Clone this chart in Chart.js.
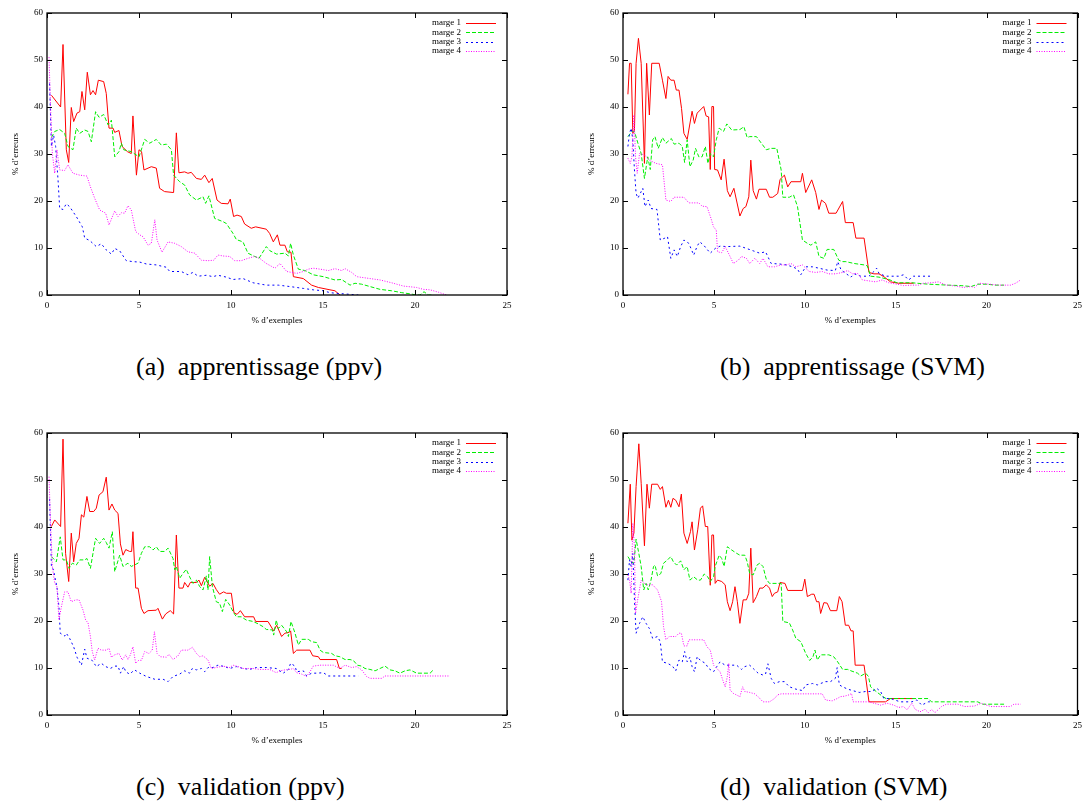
<!DOCTYPE html>
<html><head><meta charset="utf-8">
<script src="https://cdn.jsdelivr.net/npm/chart.js@4.4.1/dist/chart.umd.min.js"></script>
<style>
html,body{margin:0;padding:0;background:#fff;width:1087px;height:802px;overflow:hidden;position:relative;}
canvas{position:absolute;}
.cap{position:absolute;font-family:'Liberation Serif','Times New Roman',serif;font-size:26px;line-height:30px;color:#000;white-space:pre;}
</style></head><body>
<canvas id="ca" width="520" height="335" style="left:0px;top:0px;width:520px;height:335px"></canvas>
<canvas id="cb" width="511" height="335" style="left:576px;top:0px;width:511px;height:335px"></canvas>
<canvas id="cc" width="520" height="335" style="left:0px;top:420px;width:520px;height:335px"></canvas>
<canvas id="cd" width="511" height="335" style="left:576px;top:420px;width:511px;height:335px"></canvas>
<div class="cap" style="left:136px;top:352px">(a)  apprentissage (ppv)</div>
<div class="cap" style="left:720px;top:352px">(b)  apprentissage (SVM)</div>
<div class="cap" style="left:136px;top:772px">(c)  validation (ppv)</div>
<div class="cap" style="left:720px;top:772px">(d)  validation (SVM)</div>
<script>
// ---- data ----
const seriesLabels = ['marge 1', 'marge 2', 'marge 3', 'marge 4'];
const xTitle = '% d\u2019exemples';
const yTitle = '% d\u2019erreurs';
const xTicks = [0, 5, 10, 15, 20, 25];
const yTicks = [0, 10, 20, 30, 40, 50, 60];

// (a) apprentissage (ppv)
const aM1 = [[0.24,42.5],[0.74,40],[0.87,53.3],[1.05,30.9],[1.18,28.2],[1.32,39.9],[1.45,36.9],[1.63,38.7],[1.78,39],[1.9,43.3],[2.05,39.4],[2.19,47.4],[2.36,42.6],[2.5,43.5],[2.64,42.6],[2.79,45.7],[3.08,45.4],[3.22,42.9],[3.37,35.5],[3.59,35.5],[3.68,34.6],[3.91,35],[4.08,31.6],[4.37,30.5],[4.58,30.1],[4.67,38.1],[4.86,25.5],[5.0,30.9],[5.14,30.5],[5.27,26.6],[5.67,27.3],[5.94,27],[6.12,22.7],[6.39,22],[6.88,21.8],[7.03,34.5],[7.17,26],[7.48,26.2],[7.66,25.9],[7.84,26.1],[8.12,24.8],[8.39,24.6],[8.57,25.5],[8.8,23.9],[8.98,24.8],[9.24,20.2],[9.47,19.5],[9.84,19.4],[9.96,20.4],[10.14,16.7],[10.33,17],[10.56,16.7],[10.74,15.1],[11.1,14.2],[11.34,14.5],[11.92,14],[12.1,13.1],[12.3,11.3],[12.52,12.8],[12.66,10.6],[12.93,10.6],[13.06,9.2],[13.26,9.1],[13.39,3.9],[13.93,3.5],[14.38,2.1],[14.75,1.6],[15.38,1.1],[15.65,0.9],[15.92,0]];
const aM2 = [[0.24,33.5],[0.42,34.8],[0.69,35.2],[0.96,34.4],[1.14,31.6],[1.41,30.9],[1.59,35.5],[1.78,34.4],[2.05,35.1],[2.23,34.8],[2.41,32.6],[2.64,39],[2.83,37.8],[3.08,38.4],[3.32,36.2],[3.5,37.2],[3.68,29.4],[3.91,30.5],[4.04,32.3],[4.17,30.9],[4.58,30.5],[5.0,29.4],[5.31,33.1],[5.58,32.3],[5.94,33.1],[6.21,31.9],[6.49,32.1],[6.76,30.9],[6.88,25.5],[7.21,24.1],[7.48,23.4],[7.75,21.3],[8.12,20.2],[8.48,20.9],[8.62,19.5],[8.8,21.1],[9.11,16.3],[9.57,15.6],[9.75,15.2],[10.11,13.1],[10.29,11.8],[10.65,11.3],[10.92,8.9],[11.29,8.2],[11.52,7.8],[11.92,10.3],[12.12,9.4],[12.48,8.7],[12.93,8.9],[13.12,8.3],[13.24,11.0],[13.39,8.5],[13.66,5.5],[14.02,5.2],[14.47,4.3],[15.02,3.9],[15.65,3.2],[16.01,3.3],[16.47,2.1],[16.74,2.5],[17.1,2.3],[17.55,1.8],[18.1,1.2],[18.73,0.9],[19.28,0.5],[19.82,0.2],[20.04,0],[20.27,0],[20.49,0.7],[20.72,0],[20.99,0]];
const aM3 = [[0.14,45],[0.24,31.6],[0.36,34],[0.47,31.6],[0.6,24.5],[0.69,18.4],[0.87,18.2],[1.05,19.4],[1.23,18.8],[1.59,16.7],[1.92,14.5],[2.05,12.1],[2.32,11.6],[2.68,10.3],[2.95,10.9],[3.22,9.6],[3.5,8.7],[3.68,9.9],[3.95,9.4],[4.31,7.3],[4.67,7.1],[5.04,7.0],[5.4,6.6],[5.94,6.4],[6.49,5.9],[6.67,5.0],[7.3,5.0],[7.66,4.3],[7.93,4.8],[8.21,4.0],[8.66,4.2],[9.02,3.9],[9.29,4.2],[9.75,3.8],[10.11,3.3],[10.65,3.5],[11.2,2.6],[11.92,2.1],[12.57,2.1],[13.2,1.8],[13.93,1.4],[14.47,1.1],[15.02,0.9],[15.38,0.5],[15.74,0.35],[16.29,0.2],[16.92,0]];
const aM4 = [[0.11,50.6],[0.18,41.5],[0.29,30.1],[0.42,25.9],[0.54,30.9],[0.69,26.6],[0.96,26.5],[1.14,27.7],[1.41,25.9],[1.78,25.5],[2.17,25.3],[2.36,23.0],[2.59,20.6],[2.86,18.1],[3.19,17.4],[3.37,14.9],[3.68,17.9],[3.86,16.7],[4.04,17.5],[4.22,17.4],[4.4,19.0],[4.58,18.1],[4.82,13.5],[5.04,12.8],[5.22,12.4],[5.49,10.6],[5.67,11.0],[5.86,16.0],[5.98,11.7],[6.25,9.1],[6.58,11.3],[6.94,11.0],[7.3,10.3],[7.66,9.2],[8.03,8.9],[8.39,7.4],[8.75,7.3],[9.06,7.4],[9.29,8.5],[9.57,8.3],[9.93,8.2],[10.2,7.3],[10.56,7.3],[10.92,7.8],[11.29,8.2],[11.56,7.8],[11.92,6.7],[12.39,5.7],[12.66,6.7],[13.03,5.0],[13.57,4.6],[13.93,5.0],[14.2,5.5],[14.47,5.7],[14.84,5.5],[15.29,5.2],[15.65,5.6],[16.01,5.2],[16.2,5.6],[16.56,4.8],[16.83,3.9],[17.19,3.7],[17.55,3.5],[18.1,3.2],[18.73,2.6],[19.37,1.9],[20.09,1.6],[20.45,1.2],[20.82,1.1],[21.27,0.6],[21.72,0]];

// (b) apprentissage (SVM)
const bM1 = [[0.27,42.7],[0.36,49.3],[0.45,49.3],[0.54,34.4],[0.63,35.1],[0.72,49.3],[0.85,54.6],[1.0,49.3],[1.18,28],[1.3,49.3],[1.45,38.3],[1.58,49.3],[1.99,49.3],[2.17,45.7],[2.36,41.8],[2.48,46.5],[2.63,45.7],[2.81,45.7],[2.93,43.6],[3.08,43.6],[3.22,39.7],[3.35,34.4],[3.53,33.1],[3.62,35.1],[3.8,39.1],[3.93,36.5],[4.08,38.7],[4.44,40.1],[4.57,38.1],[4.71,37.9],[4.8,26.7],[4.89,40.1],[4.98,40.1],[5.04,26.7],[5.2,26.6],[5.4,24.5],[5.56,28.9],[5.74,22.2],[5.89,20.9],[6.1,22.7],[6.43,16.8],[6.61,18.4],[6.76,18.8],[6.92,20.9],[7.03,28.7],[7.16,22.2],[7.34,20.4],[7.48,22.5],[7.88,22.5],[8.06,20.8],[8.24,20.8],[8.51,21.6],[8.64,24.6],[8.88,25.5],[9.06,23],[9.24,24.1],[9.78,24.1],[9.87,25.9],[10.05,21.8],[10.38,24.5],[10.6,21.8],[10.78,18.2],[10.92,20.2],[11.14,19.5],[11.32,17.4],[11.72,17.4],[12.08,19.9],[12.23,15.4],[12.66,15.4],[12.81,12.1],[13.26,12.1],[13.53,4.8],[13.8,4.5],[14.08,4.5],[14.35,3.9],[14.71,2.8],[15.16,2.5],[15.98,2.5]];
const bM2 = [[0.27,33.7],[0.49,34.8],[0.63,34.8],[0.82,32.3],[1.0,30.1],[1.18,24.8],[1.36,29.4],[1.5,26.7],[1.63,33],[1.76,33.7],[1.94,31.2],[2.17,33.5],[2.36,32.3],[2.66,33.3],[2.81,32.1],[3.08,32.3],[3.26,31.6],[3.39,28.2],[3.53,33],[3.68,27.3],[3.86,28.7],[3.99,31.2],[4.17,29.4],[4.35,29.4],[4.53,31.6],[4.67,28],[4.8,30.1],[4.98,29.4],[5.13,33],[5.29,35.5],[5.53,34.8],[5.71,36.4],[5.98,35.1],[6.43,35.2],[6.65,35.8],[6.83,33.5],[6.97,33.7],[7.34,33.7],[7.61,32.3],[7.88,30.9],[8.15,31.2],[8.46,31.2],[8.7,26.6],[8.79,20.8],[9.15,20.8],[9.38,21.3],[9.6,18.8],[9.87,11.7],[10.14,11],[10.33,10.6],[10.6,11.3],[10.78,8.2],[11.05,7.8],[11.23,9.7],[11.59,9.7],[11.87,7.4],[12.08,7.1],[12.26,7.1],[12.72,6.7],[13.26,6.4],[13.44,6.2],[13.62,4.0],[14.08,3.8],[14.62,3.3],[15.07,2.6],[15.89,2.6],[16.79,2.3],[17.88,2.1],[18.6,2.0],[19.15,1.8],[19.51,2.3],[20.05,2.3],[20.42,2.1],[20.96,2.1]];
const bM3 = [[0.27,31.6],[0.36,34.4],[0.45,35.5],[0.54,33],[0.63,26.6],[0.72,21.6],[0.82,20.6],[1.0,22],[1.09,22.7],[1.21,18.8],[1.39,20.2],[1.54,18.4],[1.87,18.2],[2.05,11.7],[2.3,12.1],[2.45,12.4],[2.63,7.8],[2.81,9.6],[2.99,8.2],[3.17,10.3],[3.35,11.7],[3.62,11.0],[3.89,8.5],[4.08,10.4],[4.22,11.3],[4.44,10.6],[4.8,8.9],[5.07,9.9],[5.34,10.4],[5.71,10.3],[6.43,10.4],[7.16,9.4],[7.52,8.9],[7.84,9.2],[8.15,6.7],[8.61,6.6],[8.97,6.4],[9.33,6.0],[9.6,5.5],[9.78,4.3],[10.05,6.0],[10.42,6.0],[10.78,5.7],[11.23,5.3],[11.68,5.2],[11.81,7.1],[12.0,5.3],[12.54,3.8],[12.72,4.5],[13.08,4.0],[13.53,4.0],[13.8,5.0],[13.95,5.7],[14.08,4.6],[14.44,4.0],[15.16,4.0],[15.43,4.3],[15.71,3.2],[15.98,4.0],[16.97,4.0]];
const bM4 = [[0.27,29.1],[0.4,28],[0.49,29.4],[0.6,38.3],[0.69,29.4],[0.78,25.9],[0.91,30.1],[1.18,29.8],[1.45,28.7],[1.81,28],[2.17,27.7],[2.36,20.2],[2.63,19.9],[2.81,20.8],[3.35,20.8],[3.62,19.6],[4.17,19.6],[4.35,18.9],[4.62,18.8],[4.84,16.3],[4.98,14.5],[5.13,13.8],[5.2,9.2],[5.43,9.0],[5.62,10.3],[5.89,8.2],[6.07,6.7],[6.34,7.4],[6.52,8.2],[6.79,7.8],[6.97,6.7],[7.25,7.8],[7.52,6.7],[7.7,7.8],[7.97,6.0],[8.33,6.0],[8.7,6.4],[8.97,6.4],[9.24,6.7],[9.51,6.0],[9.87,6.4],[10.24,5.0],[10.6,4.8],[10.96,5.0],[11.32,4.5],[11.68,4.5],[12.08,4.8],[12.36,5.2],[12.63,4.5],[12.9,4.6],[13.17,3.2],[13.53,3.0],[13.9,2.8],[14.26,3.2],[14.62,2.6],[15.07,2.3],[15.43,2.0],[15.89,2.1],[16.25,2.1],[16.52,2.5],[16.97,2.6],[17.34,2.8],[17.79,2.1],[18.33,1.9],[18.7,1.6],[19.15,1.8],[19.33,1.6],[19.6,2.5],[20.14,2.3],[20.69,2.1],[21.32,2.1],[21.59,2.5],[21.87,3.2]];

// (c) validation (ppv)
const cM1 = [[0.24,40.1],[0.42,41.5],[0.74,40.1],[0.87,58.7],[1.01,34.4],[1.18,28.4],[1.32,38.7],[1.45,32.6],[1.59,36.5],[1.74,37.6],[1.87,42.6],[2.0,42.1],[2.17,46.5],[2.32,43.3],[2.54,43.3],[2.68,44],[2.83,46.8],[3.04,47.5],[3.22,50.6],[3.37,43.6],[3.53,44.9],[3.68,43.6],[3.86,42.9],[3.99,36.4],[4.13,34],[4.28,35.2],[4.49,34.8],[4.6,34.8],[4.67,39],[4.82,27],[4.95,27],[5.13,22.7],[5.27,21.6],[5.49,22.2],[5.94,22.3],[6.03,22.7],[6.27,20.4],[6.45,21.5],[6.7,22.2],[6.88,21.5],[7.03,38.3],[7.17,27],[7.39,27],[7.48,28.2],[7.66,27.2],[7.79,28.2],[8.12,28.2],[8.26,28.7],[8.39,27.5],[8.57,29.3],[8.84,27.4],[9.02,28],[9.2,26.7],[9.38,25.7],[9.6,26.2],[9.75,25.9],[10.02,25.9],[10.16,21.8],[10.33,21.4],[10.51,22.2],[10.74,20.9],[11.23,20.9],[11.34,19.9],[12.01,19.9],[12.32,17.9],[12.48,19.1],[12.75,16.7],[12.93,17.4],[13.17,17.6],[13.24,17.9],[13.39,13.1],[13.57,13.8],[14.29,13.8],[14.44,12.6],[14.75,12.4],[14.84,11.8],[15.74,11.8],[15.89,9.9],[16.01,9.9]];
const cM2 = [[0.24,33.7],[0.51,32.6],[0.72,37.9],[0.87,33],[1.05,33],[1.2,31.2],[1.38,32.3],[1.59,31.9],[1.78,33],[2.05,33],[2.17,33.3],[2.36,31.2],[2.64,37.6],[2.86,36.5],[3.08,37.6],[3.22,36.7],[3.37,35.5],[3.55,39],[3.68,30.5],[3.95,34],[4.13,31.6],[4.4,32.3],[4.58,31.6],[4.95,32.3],[5.13,34.4],[5.31,35.8],[5.58,35.8],[5.76,35.1],[5.94,35.8],[6.12,34.8],[6.39,34.8],[6.58,35.5],[6.85,33.3],[6.94,30.9],[7.03,31.6],[7.21,29.1],[7.39,30.1],[7.57,31.0],[7.75,29.4],[7.93,28],[8.12,28.7],[8.3,27.3],[8.48,26.6],[8.66,29.6],[8.75,26.6],[8.84,33.7],[8.99,27.3],[9.2,24.1],[9.38,23.8],[9.53,22],[9.71,24.6],[9.93,23.4],[10.11,22],[10.29,20.9],[10.56,20.9],[10.83,20.2],[11.2,19.9],[11.47,19.4],[11.74,18.8],[11.92,18.2],[12.25,18.1],[12.32,17.0],[12.46,20.2],[12.57,18.4],[12.75,19.1],[13.03,17.7],[13.12,16.7],[13.26,19.9],[13.48,17.4],[13.66,14.9],[13.84,16.1],[14.2,16.1],[14.38,15.6],[14.66,15.4],[14.84,13.8],[15.02,13.3],[15.47,13.1],[15.65,12.6],[15.92,12.4],[16.2,11.8],[16.47,11.8],[16.65,11.6],[16.87,10.6],[17.1,10.4],[17.28,9.9],[17.55,9.7],[17.83,9.4],[18.1,9.9],[18.37,10.4],[18.64,9.6],[18.91,9.4],[19.18,8.9],[19.46,9.4],[19.73,9.6],[20.09,8.9],[20.82,8.9],[21.0,9.6]];
const cM3 = [[0.14,46],[0.24,31.6],[0.36,30.9],[0.42,29.4],[0.54,27.3],[0.65,23],[0.72,17.4],[0.96,16.8],[1.05,17.4],[1.23,16.3],[1.45,14.5],[1.63,12.3],[1.87,10.6],[2.05,14],[2.17,12.1],[2.46,11.6],[2.68,10.3],[2.95,11],[3.19,10.3],[3.44,9.9],[3.68,10.4],[3.86,10.4],[3.99,8.9],[4.17,10.3],[4.28,9.2],[4.49,8.7],[4.76,9.6],[5.04,8.9],[5.4,8.2],[5.86,7.6],[6.31,7.6],[6.58,7.1],[6.85,8.2],[7.21,8.7],[7.48,9.4],[7.75,8.9],[7.9,9.9],[8.12,9.6],[8.39,9.9],[8.57,9.2],[8.75,10.1],[9.02,10.1],[9.29,10.6],[9.66,10.3],[9.93,9.9],[10.29,10.3],[10.65,9.9],[11.01,9.7],[11.38,10.1],[11.92,10.1],[12.46,9.9],[12.84,8.9],[13.12,9.7],[13.24,11.0],[13.48,10.4],[13.57,9.2],[13.93,9.4],[14.11,8.3],[14.38,8.9],[14.66,8.9],[15.02,9.0],[15.29,8.3],[15.74,8.3],[16.92,8.3]];
const cM4 = [[0.11,50.7],[0.18,42.2],[0.29,31.6],[0.42,28],[0.54,27.3],[0.65,20.2],[0.78,23],[0.96,26.2],[1.14,26.2],[1.32,24.1],[1.56,24.5],[1.74,24.5],[1.96,22.3],[2.1,20.2],[2.23,19.6],[2.36,16.7],[2.46,13.5],[2.59,11.7],[2.77,14.2],[2.95,13.8],[3.22,13.8],[3.37,14.2],[3.5,12.3],[3.68,12.8],[3.91,13.1],[4.09,11.7],[4.28,12.8],[4.4,11.8],[4.53,12.8],[4.67,14.5],[4.82,11],[5.0,11.7],[5.13,11.6],[5.31,13.5],[5.54,13.1],[5.72,13.8],[5.84,17.7],[5.98,13.1],[6.16,12.4],[6.49,12.3],[6.63,12.9],[6.85,11.8],[7.12,12.6],[7.3,13.8],[7.66,13.8],[7.9,14.4],[8.12,13.1],[8.3,12.4],[8.48,12.6],[8.75,11.7],[8.93,9.9],[9.2,10.1],[9.57,10.4],[9.93,10.1],[10.11,10.6],[10.38,10.3],[10.65,9.9],[11.2,9.9],[11.56,9.7],[12.1,9.7],[12.46,9.0],[12.66,9.4],[12.93,9.6],[13.21,9.7],[13.39,9.9],[13.57,9.0],[13.84,8.7],[14.11,8.2],[14.29,9.2],[14.47,10.4],[14.84,10.6],[15.56,10.6],[15.92,9.9],[16.2,10.6],[16.56,10.1],[16.83,10.3],[17.1,9.6],[17.37,8.2],[17.55,7.8],[18.19,7.8],[18.37,8.3],[21.9,8.3]];

// (d) validation (SVM)
const dM1 = [[0.27,40.8],[0.4,49.1],[0.49,37.2],[0.6,38.7],[0.72,48.6],[0.87,57.7],[1.0,49.3],[1.18,36],[1.32,49.1],[1.45,44],[1.58,49.1],[1.9,49.1],[2.05,48],[2.17,48.6],[2.36,44.2],[2.5,45.7],[2.63,44.2],[2.75,46.1],[2.9,45.7],[3.08,44.3],[3.21,47],[3.35,38.7],[3.53,36.5],[3.71,39],[3.8,41.1],[3.93,35.1],[4.11,39.4],[4.26,44],[4.38,44.5],[4.53,40.1],[4.66,40.1],[4.8,27.6],[4.89,38.3],[4.98,38.3],[5.07,28],[5.2,28.7],[5.43,28.4],[5.62,27.7],[5.74,24.1],[5.89,22.2],[6.03,24.1],[6.16,27.3],[6.29,24.1],[6.43,19.5],[6.61,24.5],[6.79,24.5],[6.92,25.9],[7.03,35.5],[7.16,23.9],[7.34,25.2],[7.52,27],[7.7,27],[7.88,27.7],[8.06,27],[8.21,25.2],[8.33,25.9],[8.51,26.2],[8.64,28.2],[8.91,28],[9.06,26.5],[9.87,26.5],[10.0,28.9],[10.14,25.2],[10.38,25.7],[10.51,25.7],[10.65,24.1],[10.78,24.1],[10.87,21.6],[11.05,23.9],[11.23,23.8],[11.41,22.2],[11.76,22.2],[11.9,25.2],[12.05,24.1],[12.23,19.1],[12.41,19.1],[12.54,17.9],[12.66,17.9],[12.77,10.6],[13.26,10.6],[13.53,2.8],[14.44,2.8],[14.71,3.5],[15.98,3.5]];
const dM2 = [[0.27,33.7],[0.45,32.6],[0.6,32.3],[0.72,37.4],[0.85,34.8],[1.0,31.6],[1.14,26.6],[1.27,28],[1.39,26.6],[1.54,28.7],[1.68,31.6],[1.76,31.9],[1.9,29.6],[2.08,30.1],[2.23,32.3],[2.45,33],[2.63,33.7],[2.77,32.6],[2.95,31.9],[3.17,32.8],[3.35,30.9],[3.53,31.6],[3.68,28.7],[3.89,29.4],[4.11,28.7],[4.26,28.7],[4.47,30],[4.66,29.4],[4.8,28.4],[4.98,29.4],[5.07,31.6],[5.29,34],[5.43,33.3],[5.56,31.6],[5.74,35.8],[5.98,35.1],[6.25,34.4],[6.43,34],[6.7,34],[6.83,32.6],[6.97,30.1],[7.16,29.8],[7.37,31.9],[7.52,32.3],[7.7,31.6],[7.88,28.9],[8.06,28],[8.7,28],[8.79,19.9],[9.15,19.6],[9.33,18.1],[9.51,16.3],[9.78,15.6],[10.05,13.1],[10.27,11.6],[10.45,12.4],[10.56,13.8],[10.69,11.7],[10.87,12.8],[11.32,12.8],[11.59,12.4],[11.81,11.3],[12.08,9.7],[12.36,9.7],[12.54,9.4],[12.9,8.9],[13.08,8.3],[13.35,8.9],[13.5,8.2],[13.62,6.0],[13.86,5.2],[14.26,4.0],[14.47,3.5],[16.79,3.5],[16.97,2.8],[19.51,2.8],[19.78,2.3],[20.96,2.3]];
const dM3 = [[0.27,28.7],[0.36,33],[0.45,31.6],[0.54,34.4],[0.63,24.5],[0.72,17.4],[0.91,19.5],[1.09,20.9],[1.27,19.5],[1.45,18.4],[1.63,16.3],[1.9,16.7],[2.05,15.6],[2.17,11.3],[2.45,11],[2.72,10.4],[2.9,9.4],[3.08,11.7],[3.26,11.3],[3.39,13.5],[3.53,11.3],[3.68,12.3],[3.8,10.3],[3.93,9.2],[4.08,12.4],[4.26,11.6],[4.53,11],[4.71,9.9],[4.98,9.2],[5.16,10.3],[5.34,11.3],[5.62,10.6],[6.25,10.6],[6.52,9.7],[6.7,10.3],[6.97,10.6],[7.16,9.9],[7.43,8.9],[7.7,8.5],[7.84,8.7],[7.97,10.9],[8.15,7.8],[8.33,6.7],[8.61,7.1],[8.88,7.1],[9.15,6.0],[9.51,5.5],[9.87,5.2],[10.05,6.4],[10.42,6.7],[10.69,6.4],[10.87,6.7],[11.14,7.1],[11.41,7.1],[11.68,7.8],[11.78,10.1],[11.9,6.4],[12.08,6.0],[12.36,5.5],[12.63,5.2],[12.99,4.8],[13.35,5.0],[13.71,5.0],[13.95,5.7],[14.17,5.0],[14.35,3.5],[14.71,3.5],[15.25,2.8],[15.89,2.8],[16.16,3.2],[16.43,2.1],[16.79,2.8],[16.97,2.8]];
const dM4 = [[0.27,29.8],[0.36,28.7],[0.45,25.9],[0.54,40.8],[0.63,35.8],[0.69,21.6],[0.82,24.8],[1.0,28.7],[1.18,28],[1.36,27.7],[1.63,27.7],[1.9,26.6],[2.12,24.1],[2.23,18.8],[2.36,16],[2.54,16.7],[2.9,16.7],[3.08,17.4],[3.21,17.4],[3.35,14.7],[3.53,14.7],[3.62,16],[4.44,16],[4.62,14.5],[4.8,13.8],[4.98,10.6],[5.16,9.9],[5.34,9.2],[5.49,7.4],[5.62,6.0],[5.74,8.2],[5.82,11.0],[5.89,5.3],[6.07,4.6],[6.43,3.9],[6.58,6.0],[6.7,5.0],[6.97,4.8],[7.25,4.5],[7.43,3.9],[7.7,2.8],[8.06,2.8],[8.33,3.5],[8.51,4.3],[8.7,4.5],[10.96,4.5],[11.14,3.2],[11.5,3.0],[11.78,3.5],[11.96,3.9],[12.17,4.0],[12.45,4.3],[12.57,4.6],[12.66,2.8],[13.53,2.8],[13.8,2.5],[14.17,2.1],[14.53,2.5],[14.89,2.1],[15.16,1.6],[15.43,1.8],[15.62,1.1],[15.89,2.5],[16.07,1.2],[16.34,0.7],[16.61,1.2],[16.79,0.5],[16.97,1.2],[17.16,0.5],[17.52,1.8],[17.79,2.3],[18.42,2.3],[18.79,1.8],[19.33,1.9],[19.69,2.5],[20.24,1.8],[21.32,1.8],[21.5,2.3],[21.87,2.3]];

// ---- styling ----
const lineColors = ['#ff0000', '#00ee00', '#0000ff', '#ff00ff'];
const lineDashes = [[], [4, 2], [2, 3], [1, 1.5]];
const FONT = "'Liberation Serif', 'Times New Roman', serif";

Chart.defaults.font.family = FONT;
Chart.defaults.font.size = 9;
Chart.defaults.color = '#000';

const framePlugin = {
  id: 'frame',
  afterDraw(chart) {
    const ctx = chart.ctx;
    const ca = chart.chartArea;
    const xs = chart.scales.x, ys = chart.scales.y;
    ctx.save();
    ctx.strokeStyle = '#000';
    ctx.lineWidth = 1;
    ctx.setLineDash([]);
    ctx.beginPath();
    xTicks.forEach(v => {
      const px = Math.round(xs.getPixelForValue(v)) + 0.5;
      ctx.moveTo(px, ca.bottom); ctx.lineTo(px, ca.bottom - 5);
      ctx.moveTo(px, ca.top); ctx.lineTo(px, ca.top + 5);
    });
    yTicks.forEach(v => {
      const py = Math.round(ys.getPixelForValue(v)) + 0.5;
      ctx.moveTo(ca.left, py); ctx.lineTo(ca.left + 5, py);
      ctx.moveTo(ca.right, py); ctx.lineTo(ca.right - 5, py);
    });
    ctx.stroke();
    ctx.lineWidth = 1.3;
    ctx.strokeRect(ca.left, ca.top, ca.right - ca.left, ca.bottom - ca.top);
    // key
    ctx.font = '9px ' + FONT;
    ctx.textAlign = 'right';
    ctx.textBaseline = 'middle';
    chart.data.datasets.forEach((ds, i) => {
      const y = ca.top + 10 + i * 9.3;
      ctx.fillStyle = '#000';
      ctx.fillText(ds.label, ca.right - 46, y);
      ctx.strokeStyle = ds.borderColor;
      ctx.lineWidth = 1;
      ctx.setLineDash(ds.borderDash);
      ctx.beginPath();
      ctx.moveTo(ca.right - 41, Math.round(y) + 0.5);
      ctx.lineTo(ca.right - 11, Math.round(y) + 0.5);
      ctx.stroke();
    });
    ctx.restore();
  }
};

function makeChart(id, series, rightPad) {
  const datasets = series.map((s, i) => ({
    label: seriesLabels[i],
    data: s.map(p => ({ x: p[0], y: p[1] })),
    borderColor: lineColors[i],
    borderDash: lineDashes[i],
    borderWidth: 1,
    pointRadius: 0,
    tension: 0,
    fill: false,
    order: 3 - i
  }));
  new Chart(document.getElementById(id), {
    type: 'line',
    data: { datasets },
    plugins: [framePlugin],
    options: {
      responsive: false,
      animation: false,
      devicePixelRatio: 1,
      layout: { padding: { left: 0, top: 13, right: rightPad, bottom: 0 } },
      plugins: { legend: { display: false }, tooltip: { enabled: false } },
      scales: {
        x: {
          type: 'linear', min: 0, max: 25,
          ticks: { stepSize: 5, padding: 5, maxRotation: 0, autoSkip: false, color: '#000' },
          grid: { display: false, drawTicks: false },
          border: { display: false },
          title: { display: true, text: xTitle, color: '#000', padding: { top: 0, bottom: 8.6 } },
          afterFit: s => { s.height = 40; }
        },
        y: {
          type: 'linear', min: 0, max: 60,
          ticks: { stepSize: 10, padding: 4, color: '#000' },
          grid: { display: false, drawTicks: false },
          border: { display: false },
          title: { display: true, text: yTitle, color: '#000', padding: { top: 10.6, bottom: 0 } },
          afterFit: s => { s.width = 47; }
        }
      }
    }
  });
}

makeChart('ca', [aM1, aM2, aM3, aM4], 13);
makeChart('cb', [bM1, bM2, bM3, bM4], 5);
makeChart('cc', [cM1, cM2, cM3, cM4], 13);
makeChart('cd', [dM1, dM2, dM3, dM4], 5);
</script>
</body></html>
